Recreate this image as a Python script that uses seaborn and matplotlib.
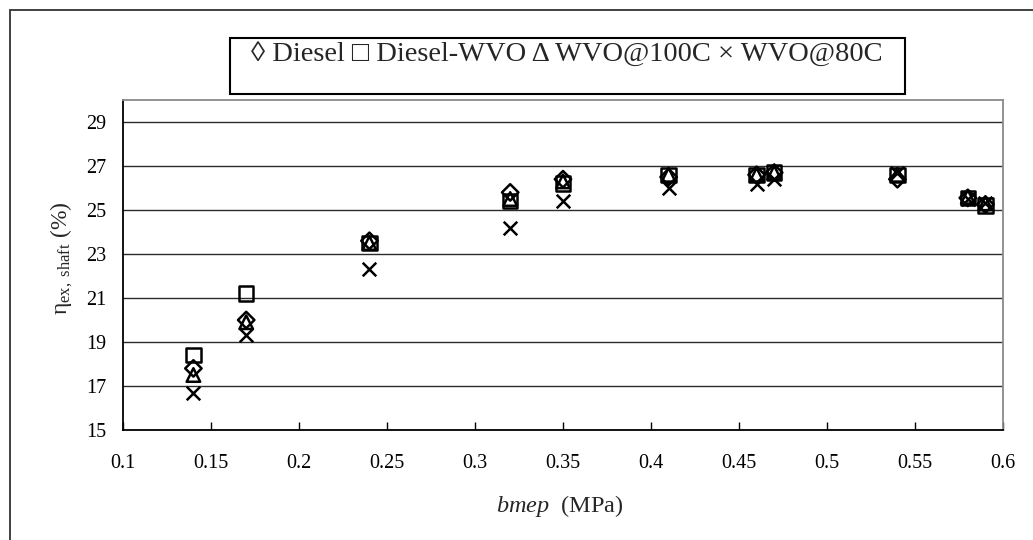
import matplotlib
matplotlib.use("Agg")
import matplotlib.pyplot as plt
from matplotlib.patches import Rectangle
import seaborn as sns
import pandas as pd

# Brake mean effective pressure (MPa)
bmep = [0.14, 0.17, 0.24, 0.32, 0.35, 0.41, 0.46, 0.47, 0.54, 0.58, 0.59]

# Shaft exergy efficiency (%) for each fuel
diesel = [17.8, 20.0, 23.6, 25.8, 26.4, 26.5, 26.6, 26.7, 26.4, 25.55, 25.25]
diesel_wvo = [18.4, 21.2, 23.5, 25.4, 26.2, 26.6, 26.6, 26.7, 26.6, 25.55, 25.2]
wvo_100 = [17.5, 19.9, 23.5, 25.5, 26.3, 26.6, 26.6, 26.7, 26.6, 25.6, 25.3]
wvo_80 = [16.7, 19.3, 22.3, 24.2, 25.4, 26.0, 26.2, 26.4, 26.7, 25.5, 25.3]

series_names = ["Diesel", "Diesel-WVO", "WVO@100C", "WVO@80C"]
x_ticks = [0.1, 0.15, 0.2, 0.25, 0.3, 0.35, 0.4, 0.45, 0.5, 0.55, 0.6]
y_ticks = [15, 17, 19, 21, 23, 25, 27, 29]

sns.set_style("white")
plt.rcParams["font.family"] = ["Liberation Serif", "DejaVu Serif"]
plt.rcParams["mathtext.fontset"] = "custom"
plt.rcParams["mathtext.rm"] = "Liberation Serif"
plt.rcParams["mathtext.it"] = "Liberation Serif:italic"
plt.rcParams["mathtext.default"] = "regular"

df = pd.DataFrame({
    "bmep": bmep * 4,
    "eta": diesel + diesel_wvo + wvo_100 + wvo_80,
    "fuel": [n for n in series_names for _ in bmep],
})

fig = plt.figure(figsize=(10.33, 5.40), dpi=100)
ax = fig.add_axes([123 / 1033, 1 - 430 / 540, 880 / 1033, 330 / 540])

marker_style = {
    "Diesel": dict(marker="D", s=70),
    "Diesel-WVO": dict(marker="s", s=105),
    "WVO@100C": dict(marker="^", s=95),
}
for name, style in marker_style.items():
    sns.scatterplot(data=df[df["fuel"] == name], x="bmep", y="eta", ax=ax,
                    facecolors="none", edgecolor="black", linewidth=1.8,
                    legend=False, zorder=3, **style)
sns.scatterplot(data=df[df["fuel"] == "WVO@80C"], x="bmep", y="eta", ax=ax,
                marker="x", s=95, color="black", linewidth=1.8,
                legend=False, zorder=3)

ax.set_xlim(0.1, 0.6)
ax.set_ylim(15, 30)
ax.set_xticks(x_ticks)
ax.set_xticklabels([f"{v:g}" for v in x_ticks])
ax.set_yticks(y_ticks)
ax.set_yticklabels([str(v) for v in y_ticks])
ax.tick_params(axis="x", direction="in", length=6, width=1, pad=17,
               labelsize=14.5, colors="black", bottom=True)
ax.tick_params(axis="y", direction="in", length=0, pad=12,
               labelsize=14.5, colors="black", left=True)

for y in y_ticks[1:]:
    ax.axhline(y, color="#2b2b2b", linewidth=1.0, zorder=1)

for side in ("left", "bottom"):
    ax.spines[side].set_color("black")
    ax.spines[side].set_linewidth(1.3)
for side in ("top", "right"):
    ax.spines[side].set_color("#8a8a8a")
    ax.spines[side].set_linewidth(1.3)

ax.set_xlabel("")
ax.set_ylabel("")
fig.text(560 / 1033, 1 - 506 / 540, r"$\it{bmep}$  (MPa)", ha="center",
         va="center", fontsize=17.5)
fig.text(62 / 1033, 1 - 258 / 540, r"$\mathrm{\eta}_{\mathrm{ex,\ shaft}}$ (%)",
         ha="center", va="center", rotation=90, fontsize=17)

# Text legend box above the plot area
fig.patches.append(Rectangle((230 / 1033, 1 - 94 / 540), 675 / 1033, 56 / 540,
                             transform=fig.transFigure, fill=False,
                             edgecolor="black", linewidth=1.5))
fig.text(567 / 1033, 1 - 54 / 540,
         "\u25ca Diesel \u25a1 Diesel-WVO \u0394 WVO@100C \u00d7 WVO@80C",
         ha="center", va="center", fontsize=20.5)

# Outer chart border
fig.patches.append(Rectangle((10 / 1033, -0.1), 1.2, 1.1 - 10 / 540,
                             transform=fig.transFigure, fill=False,
                             edgecolor="#333333", linewidth=1.3,
                             clip_on=False))

fig.savefig("out.png", dpi=100)
